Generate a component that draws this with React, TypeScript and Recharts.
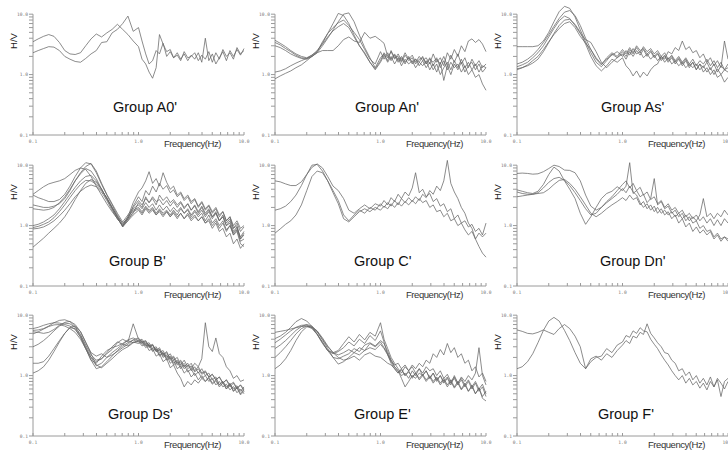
import { LineChart, Line, XAxis, YAxis, ReferenceLine } from 'recharts'

// shared frequency grid (Hz)
const FREQ = [
  0.1, 0.112, 0.126, 0.141, 0.158, 0.178, 0.2, 0.224, 0.251, 0.282, 0.316, 0.355, 0.398, 0.447, 0.501, 0.562, 0.631, 0.708, 0.794, 0.891,
  1.0, 1.08, 1.17, 1.26, 1.36, 1.47, 1.58, 1.71, 1.85, 2.0,
  2.15, 2.33, 2.51, 2.71, 2.93, 3.16, 3.41, 3.69, 3.98, 4.3,
  4.64, 5.01, 5.41, 5.84, 6.31, 6.81, 7.36, 7.94, 8.58, 9.26, 10.0,
]

const A0 = [
  [3.5, 3.9, 4.3, 4.6, 4.3, 3.4, 2.5, 2.2, 2.15, 2.3, 3.0, 3.9, 4.7, 4.2, 4.9, 5.6, 6.8, 5.6, 4.6, 3.6,
    2.9, 1.8, 1.5, 1.1, 0.87, 1.3, 4.6, 3.2, 2.4, 2.6, 1.9, 2.3, 1.8, 2.2, 1.7, 2.1, 1.8, 2.3, 1.6, 4.0,
    1.7, 2.2, 1.5, 1.9, 2.4, 1.7, 2.5, 2.0, 2.6, 2.1, 2.7],
  [2.3, 2.5, 2.7, 2.9, 2.85, 2.5, 2.0, 1.8, 1.65, 1.6, 1.85, 2.2, 2.5, 3.4, 3.5, 4.9, 5.6, 7.0, 9.3, 5.2,
    6.0, 3.6, 2.2, 1.5, 1.7, 2.5, 2.2, 3.3, 2.0, 2.4, 1.9, 2.1, 1.7, 2.4, 1.9, 2.0, 2.3, 1.7, 2.1, 1.8,
    2.4, 1.6, 2.3, 1.8, 2.6, 2.0, 2.3, 1.8, 2.8, 2.2, 2.5],
]

const AN = [
  [3.7, 3.3, 2.9, 2.5, 2.2, 2.0, 1.9, 2.1, 2.4, 3.3, 4.8, 7.0, 10.3, 9.5, 7.0, 4.5, 3.0, 2.3, 1.6, 1.25,
    1.7, 2.3, 1.9, 2.4, 1.8, 2.2, 1.7, 2.3, 1.8, 2.1, 1.6, 2.0, 1.7, 1.9, 1.5, 2.2, 1.6, 1.9, 1.4, 2.3,
    1.8, 2.6, 2.0, 3.0, 2.4, 3.6, 3.9, 3.4, 3.8, 3.2, 2.4],
  [3.4, 3.1, 2.7, 2.4, 2.1, 1.9, 1.85, 2.0, 2.3, 3.0, 4.0, 5.5, 7.5, 10.0, 10.5, 7.5, 4.5, 2.8, 1.9, 1.3,
    1.9, 2.2, 1.7, 2.5, 1.9, 2.0, 1.6, 2.1, 1.7, 1.9, 1.5, 1.8, 1.9, 1.5, 1.8, 1.6, 1.9, 1.3, 1.7, 1.2,
    1.6, 1.3, 1.5, 1.1, 1.4, 1.0, 1.2, 0.9, 1.0, 0.7, 0.55],
  [3.0, 2.8, 2.5, 2.2, 2.0, 1.85, 1.8, 2.0, 2.4, 3.5, 4.8, 6.0, 7.2, 8.0, 6.5, 5.0, 3.8, 2.6, 1.8, 1.5,
    2.4, 1.8, 2.3, 1.7, 2.1, 1.6, 1.9, 1.5, 2.0, 1.6, 1.8, 1.4, 1.7, 1.3, 1.6, 1.2, 1.5, 1.0, 1.3, 1.6,
    1.2, 1.7, 1.3, 1.8, 1.3, 1.6, 1.2, 1.5, 1.1, 1.4, 1.3],
  [1.1, 1.15, 1.25, 1.4, 1.55, 1.7, 1.85, 2.1, 2.5, 3.2, 4.2, 5.3, 6.2, 7.0, 6.0, 4.2, 3.0, 2.2, 1.6, 1.2,
    1.6, 2.1, 1.6, 2.0, 1.5, 1.9, 1.4, 1.8, 1.5, 1.7, 1.3, 1.6, 1.4, 1.7, 1.2, 1.5, 1.1, 1.6, 0.8, 1.4,
    1.0, 1.5, 1.2, 1.6, 1.1, 1.4, 1.6, 1.2, 1.5, 1.1, 1.3],
  [0.85, 0.95, 1.05, 1.15, 1.3, 1.45, 1.7, 2.0, 2.3, 2.5, 2.5, 2.5, 3.0, 3.8, 4.2, 3.6, 3.4, 5.0, 4.0, 4.3,
    3.7, 3.3, 2.0, 1.8, 2.2, 1.7, 2.0, 1.6, 1.9, 1.5, 1.8, 1.6, 2.0, 1.5, 1.9, 1.4, 1.8, 1.5, 2.0, 1.4,
    2.1, 1.6, 2.2, 1.5, 1.9, 1.3, 1.8, 1.4, 1.7, 1.3, 1.5],
]

const AS = [
  [2.9, 2.9, 2.9, 2.9, 3.0, 3.6, 5.0, 7.5, 11.0, 13.5, 12.5, 9.0, 5.5, 3.5, 2.3, 1.6, 1.35, 1.7, 2.2, 1.9,
    2.4, 2.0, 2.6, 2.2, 2.8, 2.3, 2.9, 2.4, 2.7, 2.2, 2.5, 2.0, 2.3, 1.8, 2.1, 1.7, 2.0, 1.6, 1.9, 1.5,
    1.8, 1.4, 1.7, 1.5, 1.8, 1.4, 1.7, 1.3, 1.6, 1.2, 1.5],
  [1.5, 1.6, 1.8, 2.1, 2.6, 3.4, 4.6, 6.3, 8.5, 10.8, 11.5, 9.5, 6.5, 4.0, 2.6, 1.8, 1.45, 1.9, 2.3, 2.0,
    2.6, 2.2, 2.8, 2.3, 3.0, 2.5, 2.7, 2.2, 2.5, 2.0, 2.3, 1.8, 2.1, 1.7, 2.0, 1.6, 1.9, 1.5, 1.8, 1.4,
    1.6, 1.2, 1.5, 1.1, 1.3, 1.0, 1.2, 0.9, 1.0, 0.75, 0.9],
  [1.35, 1.45, 1.6, 1.9, 2.3, 3.0, 4.2, 5.8, 7.8, 9.3, 8.5, 6.5, 4.8, 3.8, 3.4, 2.4, 1.6, 1.3, 1.6, 1.9,
    2.2, 1.8, 2.4, 2.0, 2.5, 2.1, 2.6, 2.0, 2.4, 1.9, 2.2, 1.7, 2.0, 1.6, 1.9, 1.5, 1.8, 1.4, 1.7, 1.3,
    1.6, 1.2, 1.5, 1.3, 1.6, 1.2, 1.5, 1.1, 1.4, 1.2, 1.3],
  [1.25, 1.3, 1.4, 1.55, 1.8, 2.4, 3.4, 4.8, 6.5, 8.0, 8.2, 6.8, 5.0, 3.2, 2.0, 1.4, 1.15, 1.4, 1.8, 1.6,
    1.9, 1.4, 1.2, 0.95, 1.15, 0.9, 1.1, 0.95, 1.2, 1.4, 1.5, 2.0, 1.8, 2.4, 2.2, 2.8, 2.5, 3.6, 2.6, 2.9,
    2.3, 2.5, 1.9, 2.2, 1.6, 1.9, 1.4, 1.7, 1.3, 3.6, 1.8],
  [1.2, 1.3, 1.45, 1.7, 2.0, 2.6, 3.5, 4.6, 5.8, 7.0, 7.5, 6.0, 4.3, 3.3, 2.6, 1.9, 1.5, 1.8, 2.1, 2.4,
    2.0, 2.5, 2.1, 2.7, 2.2, 2.4, 1.9, 2.2, 1.8, 2.1, 1.7, 2.0, 1.6, 1.9, 1.5, 1.7, 1.4, 1.6, 1.3, 1.5,
    1.3, 1.5, 1.2, 1.4, 1.1, 1.3, 1.0, 1.25, 1.0, 1.2, 1.1],
]

const B = [
  [3.3, 3.8, 4.4, 4.9, 5.2, 5.5, 6.0, 7.0, 8.2, 9.0, 8.5, 6.5, 4.5, 3.2, 2.3, 1.7, 1.3, 1.0, 1.3, 2.1,
    3.0, 2.5, 3.8, 3.2, 4.5, 3.6, 5.0, 4.0, 4.6, 3.5, 3.9, 3.0, 3.4, 2.6, 3.0, 2.3, 2.7, 2.0, 2.4, 1.8,
    2.1, 1.6, 1.9, 1.4, 1.7, 1.2, 1.4, 1.0, 1.2, 0.9, 1.0],
  [3.2, 2.9, 2.7, 2.5, 2.5, 2.7, 3.3, 4.5, 6.5, 9.0, 11.0, 10.5, 7.5, 4.8, 3.2, 2.2, 1.5, 1.05, 1.4, 2.4,
    3.6, 4.2, 5.5, 7.8, 5.0, 6.0, 4.5, 7.5, 5.2, 4.0, 4.5, 3.2, 3.6, 2.8, 3.2, 2.5, 2.8, 2.1, 2.5, 1.9,
    2.2, 1.7, 2.0, 1.5, 1.7, 1.2, 1.4, 0.9, 1.0, 0.6, 0.7],
  [2.2, 2.1, 2.0, 2.0, 2.1, 2.3, 2.8, 3.8, 5.5, 7.5, 9.5, 10.7, 8.0, 5.0, 3.3, 2.3, 1.6, 1.15, 1.5, 2.0,
    2.6, 2.2, 2.8, 2.4, 3.0, 2.5, 2.7, 2.2, 2.6, 2.1, 2.5, 2.0, 2.4, 1.9, 2.3, 1.8, 2.2, 1.7, 2.1, 1.6,
    1.9, 1.4, 1.7, 1.2, 1.4, 1.0, 1.1, 0.7, 0.8, 0.5, 0.45],
  [1.9, 1.85, 1.8, 1.85, 2.0, 2.4, 3.0, 4.0, 5.5, 7.2, 8.8, 8.0, 6.0, 4.0, 2.8, 2.0, 1.4, 0.95, 1.3, 1.9,
    2.2, 1.9, 2.4, 2.0, 2.3, 1.8, 2.2, 1.8, 2.1, 1.7, 2.0, 1.7, 2.0, 1.6, 1.9, 1.5, 1.8, 1.5, 1.8, 1.4,
    1.7, 1.3, 1.6, 1.2, 1.5, 1.1, 1.3, 0.9, 1.1, 0.8, 0.95],
  [1.0, 1.05, 1.15, 1.3, 1.5, 1.9, 2.5, 3.3, 4.3, 5.5, 6.5, 6.8, 5.5, 4.0, 2.8, 1.9, 1.3, 1.0, 1.4, 1.8,
    2.0, 1.7, 2.1, 1.8, 2.0, 1.6, 1.9, 1.6, 1.8, 1.5, 1.8, 1.5, 1.9, 1.6, 1.8, 1.4, 1.7, 1.4, 1.6, 1.2,
    1.5, 1.1, 1.3, 1.0, 1.2, 0.85, 1.0, 0.75, 0.9, 0.65, 0.8],
  [0.93, 0.97, 1.05, 1.15, 1.35, 1.7, 2.2, 2.9, 3.8, 4.8, 5.6, 5.5, 4.8, 3.8, 2.9, 2.0, 1.4, 1.1, 1.3, 1.6,
    2.4, 2.0, 3.0, 2.4, 2.8, 2.2, 3.2, 2.6, 3.0, 2.4, 2.7, 2.2, 2.5, 2.0, 2.3, 1.8, 2.1, 1.6, 2.0, 1.5,
    1.8, 1.4, 1.6, 1.2, 1.4, 1.0, 1.2, 0.8, 0.95, 0.6, 0.75],
  [0.88, 0.9, 0.95, 1.05, 1.2, 1.45, 1.8, 2.3, 3.0, 3.7, 4.3, 4.7, 4.4, 3.6, 2.6, 1.8, 1.3, 1.0, 1.2, 1.7,
    1.9, 1.6, 2.0, 1.7, 1.9, 1.5, 1.8, 1.5, 1.7, 1.4, 1.7, 1.4, 1.6, 1.3, 1.6, 1.3, 1.5, 1.2, 1.4, 1.1,
    1.3, 1.0, 1.2, 0.9, 1.1, 0.8, 1.0, 0.7, 0.85, 0.55, 0.6],
  [0.44, 0.52, 0.62, 0.75, 0.9, 1.1, 1.4, 1.9, 2.7, 3.8, 5.0, 5.8, 5.2, 4.0, 2.8, 2.0, 1.4, 0.95, 1.2, 1.5,
    1.8, 1.5, 1.9, 1.6, 1.8, 1.5, 1.7, 1.4, 1.7, 1.4, 1.6, 1.3, 1.6, 1.3, 1.5, 1.2, 1.4, 1.2, 1.4, 1.1,
    1.2, 0.9, 1.1, 0.8, 0.9, 0.65, 0.75, 0.5, 0.6, 0.42, 0.5],
]

const C = [
  [5.5, 5.3, 4.9, 4.6, 4.6, 5.3, 7.0, 9.2, 10.5, 9.0, 6.5, 4.5, 3.8, 2.8, 1.8, 1.6, 1.9, 2.2, 1.9, 2.3,
    2.1, 2.6, 2.2, 2.9, 2.5, 3.3, 2.8, 3.6, 3.1, 4.2, 7.5, 3.5, 4.0, 3.0, 3.4, 2.5, 2.8, 2.1, 2.3, 1.7,
    1.9, 1.3, 1.5, 1.1, 1.2, 0.95, 1.05, 0.8, 0.9, 0.7, 1.1],
  [1.8, 1.9, 2.1, 2.5, 3.2, 4.6, 7.0, 10.0, 10.3, 8.0, 5.5, 3.8, 2.6, 1.5, 1.2, 1.5, 1.8, 1.6, 2.0, 1.8,
    2.3, 2.0, 2.4, 2.1, 2.6, 2.2, 2.8, 2.4, 2.9, 2.5, 3.0, 2.6, 3.3, 2.9, 3.8, 3.3, 4.5, 3.8, 5.5, 12.0,
    5.0, 3.6, 2.8, 2.0, 1.6, 1.1, 0.9, 0.6, 0.45, 0.35, 0.3],
  [0.75, 0.88, 1.05, 1.2, 1.5, 2.2, 3.8, 6.5, 8.0, 7.5, 5.5, 3.5, 2.3, 1.3, 1.15, 1.4, 1.7, 1.9, 1.7, 2.0,
    1.8, 2.1, 1.9, 2.3, 2.0, 2.4, 2.1, 2.5, 2.2, 2.6, 2.3, 2.8, 2.4, 2.6, 2.0, 2.2, 1.7, 1.8, 1.4, 1.6,
    1.2, 1.3, 1.0, 1.1, 0.85, 0.7, 0.8, 0.6, 0.75, 0.65, 0.75],
]

const DN = [
  [7.3, 7.4, 7.3, 7.1, 7.2, 7.8, 8.8, 10.0, 9.5, 8.3, 8.2, 7.5, 5.5, 3.2, 2.1, 1.8, 2.0, 2.5, 3.0, 3.8,
    4.8, 5.5, 4.2, 5.0, 3.8, 4.3, 3.2, 3.6, 2.7, 3.0, 2.3, 2.6, 2.0, 2.3, 1.8, 2.0, 1.6, 1.8, 1.4, 1.6,
    1.3, 1.5, 1.2, 1.4, 1.1, 1.3, 1.0, 1.25, 1.0, 1.3, 1.1],
  [3.9, 3.7, 3.5, 3.4, 3.7, 4.8, 7.0, 9.3, 8.0, 5.5, 4.0, 2.8, 1.6, 1.05, 1.4, 2.0, 2.8, 3.4, 3.7, 4.4,
    3.8, 4.5, 11.0, 3.4, 3.8, 3.0, 3.3, 2.4, 2.8, 6.0, 2.2, 2.5, 1.9, 2.1, 1.6, 1.8, 1.4, 1.6, 1.2, 1.4,
    1.1, 1.2, 0.9, 1.0, 0.8, 0.85, 0.65, 0.75, 0.6, 0.65, 0.55],
  [3.6, 3.4, 3.3, 3.3, 3.5, 4.2, 5.2, 6.0, 6.3, 5.6, 4.6, 3.5, 2.6, 1.9, 1.5, 1.6, 2.0, 2.4, 2.8, 3.3,
    4.1, 3.5, 4.5, 3.6, 3.2, 2.4, 2.0, 2.3, 1.8, 2.1, 1.6, 1.9, 1.5, 1.7, 1.3, 1.5, 1.1, 1.3, 0.95, 1.1,
    0.8, 0.95, 0.75, 0.85, 0.7, 0.8, 0.6, 0.7, 0.55, 0.65, 0.6],
  [3.0, 3.1, 3.2, 3.3, 3.4, 3.5, 4.0, 4.8, 5.6, 5.8, 5.0, 4.0, 3.0, 2.2, 1.6, 1.4, 1.6, 1.9, 2.2, 2.5,
    2.9, 2.6, 3.2, 2.7, 2.9, 2.2, 2.5, 1.9, 2.2, 1.7, 2.0, 1.6, 1.8, 1.5, 1.7, 1.4, 1.6, 1.3, 1.5, 1.2,
    1.4, 1.2, 1.5, 2.8, 1.4, 1.6, 1.3, 1.6, 1.4, 1.8, 1.5],
]

const DS = [
  [6.0, 6.3, 6.8, 7.2, 7.5, 7.4, 7.0, 6.6, 5.8, 4.4, 2.8, 1.8, 1.6, 2.1, 2.6, 2.9, 3.1, 3.4, 3.9, 4.2,
    3.8, 4.0, 3.3, 3.5, 2.8, 3.0, 2.4, 2.6, 2.0, 2.3, 1.8, 2.0, 1.5, 1.8, 1.4, 1.6, 1.2, 1.4, 1.1, 1.2,
    0.95, 1.05, 0.85, 0.95, 0.75, 0.85, 0.65, 0.75, 0.6, 0.7, 0.55],
  [5.6, 5.7, 6.0, 6.6, 7.5, 8.2, 8.4, 7.8, 6.5, 4.8, 3.2, 2.2, 1.8, 1.9, 2.3, 2.7, 3.5, 4.0, 3.6, 7.2,
    4.0, 3.6, 3.8, 3.1, 3.3, 2.6, 2.9, 2.2, 2.5, 1.9, 2.1, 1.6, 1.8, 1.4, 1.6, 1.2, 1.4, 1.1, 1.3, 1.0,
    1.1, 0.85, 0.95, 0.7, 0.8, 0.6, 0.75, 0.55, 0.65, 0.5, 0.6],
  [5.3, 5.2, 5.0, 5.2, 5.8, 6.8, 7.6, 7.9, 7.0, 5.3, 3.5, 2.4, 2.1, 2.3, 2.0, 2.4, 2.8, 3.3, 3.8, 3.5,
    3.9, 3.3, 3.5, 2.9, 3.2, 2.5, 2.7, 2.1, 2.4, 1.8, 2.0, 1.5, 1.7, 1.3, 1.5, 1.3, 1.6, 1.4, 1.9, 7.5,
    3.0, 2.5, 4.2, 2.3, 2.0, 1.4, 1.2, 0.9, 1.0, 0.8, 0.85],
  [4.9, 5.3, 5.9, 6.5, 6.9, 7.0, 6.6, 6.0, 5.2, 4.0, 2.8, 2.0, 1.7, 1.9, 2.4, 3.0, 3.6, 3.3, 3.1, 3.6,
    3.4, 3.6, 2.9, 3.2, 2.5, 2.8, 2.1, 2.4, 1.8, 2.0, 1.5, 1.7, 1.3, 1.5, 1.15, 1.3, 1.0, 1.15, 0.9, 1.0,
    0.8, 0.9, 0.7, 0.8, 0.65, 0.72, 0.58, 0.66, 0.52, 0.6, 0.5],
  [3.0, 3.3, 3.8, 4.5, 5.5, 6.6, 7.4, 7.2, 6.3, 4.6, 3.0, 2.0, 1.45, 1.6, 2.0, 2.2, 2.5, 2.9, 3.3, 3.9,
    4.2, 3.5, 3.7, 3.0, 3.2, 2.5, 2.7, 2.0, 2.2, 1.6, 1.8, 1.3, 1.45, 1.1, 1.25, 0.95, 1.1, 0.85, 1.0, 0.8,
    0.9, 0.72, 0.82, 0.65, 0.75, 0.6, 0.7, 0.55, 0.62, 0.48, 0.55],
  [1.6, 1.6, 1.7, 2.1, 2.8, 3.8, 5.0, 6.3, 6.6, 5.4, 3.6, 2.3, 1.5, 1.35, 1.6, 1.9, 2.3, 2.7, 3.0, 3.5,
    3.7, 3.1, 3.3, 2.6, 2.8, 2.1, 2.3, 1.7, 1.9, 1.35, 1.5, 1.1, 0.9, 0.65, 0.8, 0.7, 0.85, 0.75, 0.9, 0.8,
    0.95, 0.75, 0.85, 0.7, 0.8, 0.65, 0.72, 0.6, 0.68, 0.55, 0.65],
  [1.1, 1.2, 1.4, 1.8, 2.5, 3.6, 5.0, 6.2, 6.0, 4.3, 2.8, 1.8, 1.3, 1.4, 1.7, 2.1, 2.6, 3.1, 3.5, 3.9,
    3.6, 3.8, 3.1, 3.3, 2.6, 2.8, 2.2, 2.4, 1.9, 2.1, 1.6, 1.8, 1.4, 1.6, 1.3, 1.45, 1.15, 1.3, 1.05, 1.15,
    0.95, 1.05, 0.85, 0.95, 0.75, 0.85, 0.7, 0.78, 0.62, 0.7, 0.6],
]

const E = [
  [5.2, 5.4, 5.6, 5.9, 6.2, 6.5, 6.6, 6.0, 4.8, 3.5, 2.6, 2.3, 2.5, 2.9, 3.6, 3.1, 4.0, 3.4, 4.6, 3.8,
    5.5, 3.6, 2.2, 1.6, 1.3, 1.1, 1.3, 1.0, 1.2, 0.9, 1.1, 0.85, 1.0, 0.8, 0.95, 0.75, 0.9, 0.7, 0.85, 0.65,
    0.8, 0.62, 0.75, 0.58, 0.7, 0.55, 0.66, 0.5, 0.62, 0.45, 0.55],
  [4.1, 4.5, 5.2, 6.3, 7.8, 8.8, 8.0, 6.5, 4.8, 3.4, 2.6, 2.4, 2.6, 3.4, 4.4, 3.6, 4.8, 3.9, 5.2, 4.5,
    7.5, 4.0, 2.8, 2.0, 1.6, 1.3, 1.1, 1.4, 1.2, 1.5, 1.3, 1.6, 1.4, 1.8, 1.6, 2.3, 2.0, 2.7, 2.2, 3.4,
    2.4, 2.9, 2.0, 2.3, 1.6, 1.8, 1.2, 1.4, 0.95, 1.1, 0.8],
  [3.5, 4.0, 4.7, 5.5, 6.3, 6.8, 6.9, 6.2, 4.9, 3.6, 2.6, 2.0, 1.9, 2.1, 2.3, 2.8, 2.5, 3.2, 3.5, 3.1,
    3.8, 3.4, 2.5, 1.8, 1.4, 1.2, 0.9, 0.65, 0.8, 1.0, 0.9, 1.1, 1.0, 1.2, 0.9, 1.1, 0.85, 1.0, 0.8, 0.95,
    0.75, 0.9, 0.7, 0.85, 0.65, 0.8, 0.6, 0.75, 0.55, 0.65, 0.45],
  [2.8, 3.2, 3.8, 4.6, 5.6, 6.5, 7.0, 6.6, 5.4, 3.9, 2.8, 2.0, 1.55, 1.7, 2.0, 2.4, 2.2, 2.6, 2.9, 2.7,
    3.3, 2.8, 2.2, 1.7, 1.4, 1.2, 1.0, 1.1, 0.9, 1.2, 1.0, 1.3, 1.1, 1.4, 1.2, 1.3, 1.0, 1.2, 0.9, 1.05,
    0.8, 0.95, 0.75, 0.9, 0.7, 0.85, 0.65, 0.8, 0.6, 0.72, 0.5],
  [2.0, 2.4, 3.0, 3.8, 4.9, 6.0, 6.6, 6.3, 5.3, 4.0, 3.0, 2.4, 2.2, 2.4, 2.7, 2.4, 2.9, 2.6, 3.4, 3.0,
    3.6, 2.9, 2.3, 1.8, 1.5, 1.6, 1.3, 1.5, 1.2, 1.4, 1.1, 1.3, 1.0, 1.2, 0.9, 1.1, 0.8, 1.0, 0.75, 0.9,
    0.7, 1.0, 0.75, 0.95, 0.8, 1.0, 0.85, 1.1, 2.9, 1.0, 0.7],
  [1.3, 1.5, 1.9, 2.6, 3.8, 5.3, 6.4, 6.4, 5.5, 4.2, 3.1, 2.4, 2.0, 1.8, 1.9, 2.1, 1.8, 2.2, 2.4, 2.1,
    2.0, 1.8, 1.6, 1.5, 1.3, 1.1, 1.25, 1.0, 1.15, 0.95, 1.1, 0.9, 1.05, 0.85, 1.0, 0.8, 0.95, 0.75, 0.9, 0.7,
    0.85, 0.65, 0.8, 0.6, 0.75, 0.55, 0.7, 0.5, 0.62, 0.42, 0.38],
]

const F = [
  [5.7, 5.4, 5.0, 4.9, 5.2, 5.7, 5.2, 4.8, 6.0, 7.0, 6.0, 4.5, 3.0, 1.3, 1.9, 2.1, 1.8, 2.3, 2.0, 2.6,
    3.2, 3.8, 3.4, 4.5, 4.2, 5.2, 4.8, 7.2, 5.0, 4.2, 3.5, 3.0, 2.4, 2.3, 1.8, 1.6, 1.2, 1.3, 1.0, 1.15,
    0.85, 1.0, 0.75, 0.9, 0.7, 0.95, 0.65, 0.9, 0.75, 0.6, 0.8],
  [1.3, 1.4, 1.7, 2.3, 3.5, 5.6, 8.0, 9.2, 8.0, 5.6, 3.8, 2.4, 1.6, 1.3, 1.7, 2.0, 2.1, 2.8, 2.4, 3.2,
    3.6, 4.6, 4.3, 5.5, 5.0, 6.2, 5.5, 5.3, 4.0, 3.3, 2.8, 2.2, 1.8, 1.5, 1.2, 1.0, 0.85, 1.0, 0.75, 0.9,
    0.7, 0.8, 0.62, 0.75, 0.58, 0.8, 0.65, 0.85, 0.45, 0.8, 0.9],
]

const TICKS = [0.1, 0.2, 0.3, 0.4, 0.5, 0.6, 0.7, 0.8, 0.9, 1, 2, 3, 4, 5, 6, 7, 8, 9, 10]
const TICK_LABELS: Record<string, string> = { '0.1': '0.1', '1': '1.0', '10': '10.0' }

const COL_X = [33, 275, 517]
const ROW_Y = [14, 165, 315]
const TITLE_BASE = [112, 266, 419]

const PANELS = [
  { title: "Group A0'", curves: A0, col: 0, row: 0, tx: 113 },
  { title: "Group An'", curves: AN, col: 1, row: 0, tx: 355 },
  { title: "Group As'", curves: AS, col: 2, row: 0, tx: 601 },
  { title: "Group B'", curves: B, col: 0, row: 1, tx: 109 },
  { title: "Group C'", curves: C, col: 1, row: 1, tx: 354 },
  { title: "Group Dn'", curves: DN, col: 2, row: 1, tx: 600 },
  { title: "Group Ds'", curves: DS, col: 0, row: 2, tx: 108 },
  { title: "Group E'", curves: E, col: 1, row: 2, tx: 354 },
  { title: "Group F'", curves: F, col: 2, row: 2, tx: 598 },
]

const AXIS = '#9a9a9a'
const LINE = '#666'
const SANS = "'Liberation Sans', Arial, sans-serif"
const MONO = "'DejaVu Sans Mono', monospace"

function XTick(props: any) {
  const { x, y, payload } = props
  const label = TICK_LABELS[String(payload.value)]
  return (
    <g>
      <line x1={x} x2={x} y1={y} y2={y - 3} stroke={AXIS} />
      {label && (
        <text x={x} y={y + 7.5} textAnchor="middle" fontSize={4.6} fill="#777" fontFamily={MONO}>
          {label}
        </text>
      )}
    </g>
  )
}

function YTick(props: any) {
  const { x, y, payload } = props
  const label = TICK_LABELS[String(payload.value)]
  return (
    <g>
      <line x1={x} x2={x - 4} y1={y} y2={y} stroke={AXIS} />
      {label && (
        <text x={x - 5} y={y + 1.6} textAnchor="end" fontSize={4.6} fill="#777" fontFamily={MONO}>
          {label}
        </text>
      )}
    </g>
  )
}

function Panel({ p }: { p: any }) {
  const x0 = COL_X[p.col]
  const y0 = ROW_Y[p.row]
  const data = FREQ.map((f, i) => {
    const row: any = { f }
    p.curves.forEach((c: number[], j: number) => {
      row['c' + j] = c[i]
    })
    return row
  })

  return (
    <>
      <div style={{ position: 'absolute', left: x0 - 40, top: y0 - 18 }}>
        <LineChart width={261} height={169} data={data} margin={{ top: 0, right: 10, bottom: 0, left: 0 }}>
          <XAxis
            dataKey="f"
            type="number"
            scale="log"
            domain={[0.1, 10]}
            ticks={TICKS}
            interval={0}
            tick={XTick}
            tickLine={false}
            tickSize={0}
            tickMargin={0}
            axisLine={{ stroke: AXIS }}
            height={30}
          />
          <YAxis
            type="number"
            scale="log"
            domain={[0.1, 20]}
            ticks={TICKS}
            interval={0}
            tick={YTick}
            tickLine={false}
            tickSize={0}
            tickMargin={0}
            axisLine={false}
            width={40}
          />
          <ReferenceLine segment={[{ x: 0.1, y: 0.1 }, { x: 0.1, y: 10 }]} stroke={AXIS} />
          {p.curves.map((_: number[], j: number) => (
            <Line
              key={j}
              dataKey={'c' + j}
              type="linear"
              stroke={LINE}
              strokeWidth={0.75}
              dot={false}
              activeDot={false}
              isAnimationActive={false}
            />
          ))}
        </LineChart>
      </div>
      <div
        style={{
          position: 'absolute',
          left: x0 - 19.5,
          top: y0 + 27,
          transform: 'translate(-50%, -50%) rotate(-90deg)',
          fontFamily: SANS,
          fontSize: 9.5,
          lineHeight: '10px',
          color: '#222',
          whiteSpace: 'nowrap',
        }}
      >
        H/V
      </div>
      <div
        style={{
          position: 'absolute',
          left: p.tx,
          top: TITLE_BASE[p.row] - 12,
          fontFamily: SANS,
          fontSize: 14.5,
          lineHeight: '14px',
          color: '#111',
          whiteSpace: 'nowrap',
        }}
      >
        {p.title}
      </div>
      <div
        style={{
          position: 'absolute',
          left: x0 + 131,
          top: y0 + 125,
          fontFamily: SANS,
          fontSize: 9.5,
          lineHeight: '9.5px',
          letterSpacing: -0.45,
          color: '#333',
          whiteSpace: 'nowrap',
        }}
      >
        Frequency(Hz)
      </div>
    </>
  )
}

export default function App() {
  return (
    <div
      style={{
        position: 'absolute',
        left: 0,
        top: 0,
        width: 728,
        height: 457,
        overflow: 'hidden',
        background: '#fff',
      }}
    >
      {PANELS.map((p) => (
        <Panel key={p.title} p={p} />
      ))}
    </div>
  )
}
